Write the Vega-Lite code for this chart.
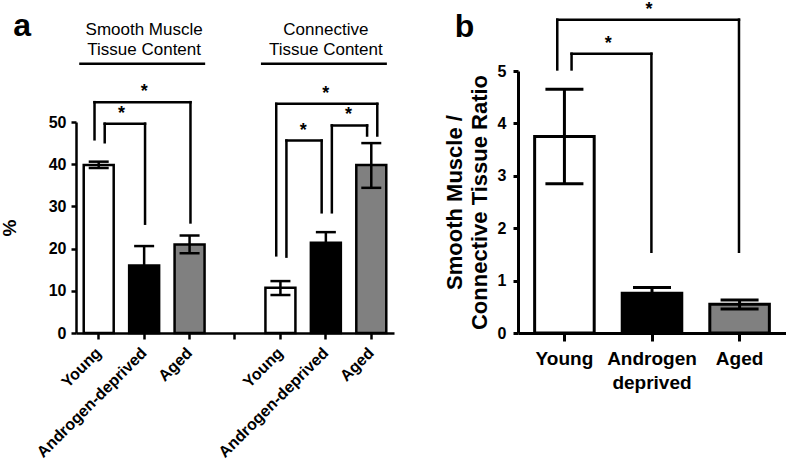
{
  "$schema": "https://vega.github.io/schema/vega-lite/v6.json",
  "padding": {"left": 0, "top": 0, "right": 0, "bottom": 0},
  "background": "white",
  "spacing": 49,
  "config": {
    "view": {"stroke": null},
    "font": "Liberation Sans",
    "axis": {"domainColor": "black", "tickColor": "black", "labelColor": "black", "titleColor": "black", "grid": false, "labelFontWeight": "bold", "titleFontWeight": "bold", "domainWidth": 2.5, "tickWidth": 2.5, "labelFont": "Liberation Sans", "titleFont": "Liberation Sans"},
    "text": {"font": "Liberation Sans", "color": "black"}
  },
  "resolve": {"scale": {"fill": "independent", "x": "independent", "y": "independent"}},
  "datasets": {
    "a_bars": [
      {"bar": "SM|Young", "tissue": "Smooth Muscle", "group": "Young", "mean": 39.8, "lo": 39.1, "hi": 40.6},
      {"bar": "SM|Androgen-deprived", "tissue": "Smooth Muscle", "group": "Androgen-deprived", "mean": 16.0, "lo": 11.4, "hi": 20.6},
      {"bar": "SM|Aged", "tissue": "Smooth Muscle", "group": "Aged", "mean": 21.0, "lo": 18.9, "hi": 23.1},
      {"bar": "CT|Young", "tissue": "Connective", "group": "Young", "mean": 10.7, "lo": 9.0, "hi": 12.3},
      {"bar": "CT|Androgen-deprived", "tissue": "Connective", "group": "Androgen-deprived", "mean": 21.4, "lo": 18.9, "hi": 23.9},
      {"bar": "CT|Aged", "tissue": "Connective", "group": "Aged", "mean": 39.8, "lo": 34.4, "hi": 45.0}
    ],
    "a_legs": [
      {"bar": "SM|Young", "side": "L", "bottom": 45.9, "top": 54.7},
      {"bar": "SM|Aged", "side": "C", "bottom": 26.2, "top": 54.7},
      {"bar": "SM|Young", "side": "R", "bottom": 45.2, "top": 49.6},
      {"bar": "SM|Androgen-deprived", "side": "C", "bottom": 25.9, "top": 49.6},
      {"bar": "CT|Young", "side": "L", "bottom": 18.4, "top": 54.3},
      {"bar": "CT|Aged", "side": "R", "bottom": 46.8, "top": 54.3},
      {"bar": "CT|Young", "side": "R", "bottom": 18.1, "top": 45.6},
      {"bar": "CT|Androgen-deprived", "side": "L", "bottom": 28.6, "top": 45.6},
      {"bar": "CT|Androgen-deprived", "side": "R", "bottom": 28.6, "top": 49.2},
      {"bar": "CT|Aged", "side": "L", "bottom": 46.8, "top": 49.2}
    ],
    "a_hlines": [
      {"from": "SM|Young", "to": "SM|Aged", "fromSide": "L", "toSide": "C", "y": 54.7},
      {"from": "SM|Young", "to": "SM|Androgen-deprived", "fromSide": "R", "toSide": "C", "y": 49.6},
      {"from": "CT|Young", "to": "CT|Aged", "fromSide": "L", "toSide": "R", "y": 54.3},
      {"from": "CT|Young", "to": "CT|Androgen-deprived", "fromSide": "R", "toSide": "L", "y": 45.6},
      {"from": "CT|Androgen-deprived", "to": "CT|Aged", "fromSide": "R", "toSide": "L", "y": 49.2}
    ],
    "a_stars": [
      {"at": "SM|Androgen-deprived", "mode": "center", "y": 54.7},
      {"at": "SM|Young", "mode": "between", "y": 49.6},
      {"at": "CT|Androgen-deprived", "mode": "center", "y": 54.3},
      {"at": "CT|Young", "mode": "between", "y": 45.6},
      {"at": "CT|Androgen-deprived", "mode": "between", "y": 49.2}
    ],
    "a_titles": [
      {"label": "Smooth Muscle\nTissue Content", "at": "SM|Androgen-deprived", "first": "SM|Young", "last": "SM|Aged", "y": 70.5, "line": 63.8},
      {"label": "Connective\nTissue Content", "at": "CT|Androgen-deprived", "first": "CT|Young", "last": "CT|Aged", "y": 70.5, "line": 63.8}
    ],
    "a_panel": [{"label": "a", "at": "SM|Young", "y": 70.3}],
    "b_bars": [
      {"bar": "Young", "mean": 3.75, "lo": 2.85, "hi": 4.65},
      {"bar": "Androgen deprived", "mean": 0.76, "lo": 0.66, "hi": 0.87},
      {"bar": "Aged", "mean": 0.55, "lo": 0.46, "hi": 0.63}
    ],
    "b_legs": [
      {"bar": "Young", "side": "L", "bottom": 5.03, "top": 5.98},
      {"bar": "Aged", "side": "C", "bottom": 1.55, "top": 5.98},
      {"bar": "Young", "side": "R", "bottom": 5.03, "top": 5.33},
      {"bar": "Androgen deprived", "side": "C", "bottom": 1.55, "top": 5.33}
    ],
    "b_hlines": [
      {"from": "Young", "to": "Aged", "fromSide": "L", "toSide": "C", "y": 5.98},
      {"from": "Young", "to": "Androgen deprived", "fromSide": "R", "toSide": "C", "y": 5.33}
    ],
    "b_stars": [
      {"at": "Androgen deprived", "mode": "center", "y": 5.98},
      {"at": "Young", "mode": "between", "y": 5.33}
    ],
    "b_panel": [{"label": "b", "at": "Young", "y": 5.64}]
  },
  "hconcat": [
    {
      "width": 318,
      "height": 262,
      "layer": [
        {
          "data": {"name": "a_bars"},
          "mark": {"type": "bar", "stroke": "black", "strokeWidth": 2.5},
          "encoding": {
            "x": {"field": "bar", "type": "nominal", "title": null,
              "scale": {"domain": ["SM|Young", "SM|Androgen-deprived", "SM|Aged", "gap", "CT|Young", "CT|Androgen-deprived", "CT|Aged"], "paddingInner": 0.34, "paddingOuter": 0.17},
              "axis": {"labelExpr": "split(datum.label, '|')[1] || ''", "labelAngle": -45, "labelAlign": "right", "labelBaseline": "middle", "labelFontSize": 16, "tickSize": 6, "labelPadding": 11}},
            "y": {"field": "mean", "type": "quantitative", "title": "%",
              "scale": {"domain": [0, 50], "range": [262, 51], "nice": false},
              "axis": {"values": [0, 10, 20, 30, 40, 50], "tickSize": 5, "labelPadding": 5, "labelFontSize": 16, "titleFontSize": 19, "titlePadding": 29}},
            "fill": {"field": "group", "type": "nominal", "legend": null,
              "scale": {"domain": ["Young", "Androgen-deprived", "Aged"], "range": ["#ffffff", "#000000", "#808080"]}}
          }
        },
        {
          "data": {"name": "a_bars"},
          "mark": {"type": "rule", "strokeWidth": 2.5, "color": "black"},
          "encoding": {
            "x": {"field": "bar", "type": "nominal"},
            "y": {"field": "lo", "type": "quantitative"},
            "y2": {"field": "hi"}
          }
        },
        {
          "data": {"name": "a_bars"},
          "mark": {"type": "tick", "orient": "horizontal", "size": 20, "thickness": 2.5, "color": "black", "opacity": 1},
          "encoding": {
            "x": {"field": "bar", "type": "nominal"},
            "y": {"field": "lo", "type": "quantitative"}
          }
        },
        {
          "data": {"name": "a_bars"},
          "mark": {"type": "tick", "orient": "horizontal", "size": 20, "thickness": 2.5, "color": "black", "opacity": 1},
          "encoding": {
            "x": {"field": "bar", "type": "nominal"},
            "y": {"field": "hi", "type": "quantitative"}
          }
        },
        {
          "data": {"name": "a_legs"},
          "transform": [{"filter": "datum.side === 'L'"}],
          "mark": {"type": "rule", "strokeWidth": 2.5, "color": "black", "strokeCap": "square"},
          "encoding": {
            "x": {"field": "bar", "type": "nominal", "bandPosition": 0.36},
            "y": {"field": "bottom", "type": "quantitative"},
            "y2": {"field": "top"}
          }
        },
        {
          "data": {"name": "a_legs"},
          "transform": [{"filter": "datum.side === 'C'"}],
          "mark": {"type": "rule", "strokeWidth": 2.5, "color": "black", "strokeCap": "square"},
          "encoding": {
            "x": {"field": "bar", "type": "nominal", "bandPosition": 0.53},
            "y": {"field": "bottom", "type": "quantitative"},
            "y2": {"field": "top"}
          }
        },
        {
          "data": {"name": "a_legs"},
          "transform": [{"filter": "datum.side === 'R'"}],
          "mark": {"type": "rule", "strokeWidth": 2.5, "color": "black", "strokeCap": "square"},
          "encoding": {
            "x": {"field": "bar", "type": "nominal", "bandPosition": 0.7},
            "y": {"field": "bottom", "type": "quantitative"},
            "y2": {"field": "top"}
          }
        },
        {
          "data": {"name": "a_hlines"},
          "transform": [{"filter": "datum.fromSide === 'L' && datum.toSide === 'C'"}],
          "mark": {"type": "rule", "strokeWidth": 2.5, "color": "black", "strokeCap": "square"},
          "encoding": {
            "x": {"field": "from", "type": "nominal", "bandPosition": 0.36},
            "x2": {"field": "to", "bandPosition": 0.53},
            "y": {"field": "y", "type": "quantitative"}
          }
        },
        {
          "data": {"name": "a_hlines"},
          "transform": [{"filter": "datum.fromSide === 'R' && datum.toSide === 'C'"}],
          "mark": {"type": "rule", "strokeWidth": 2.5, "color": "black", "strokeCap": "square"},
          "encoding": {
            "x": {"field": "from", "type": "nominal", "bandPosition": 0.7},
            "x2": {"field": "to", "bandPosition": 0.53},
            "y": {"field": "y", "type": "quantitative"}
          }
        },
        {
          "data": {"name": "a_hlines"},
          "transform": [{"filter": "datum.fromSide === 'L' && datum.toSide === 'R'"}],
          "mark": {"type": "rule", "strokeWidth": 2.5, "color": "black", "strokeCap": "square"},
          "encoding": {
            "x": {"field": "from", "type": "nominal", "bandPosition": 0.36},
            "x2": {"field": "to", "bandPosition": 0.7},
            "y": {"field": "y", "type": "quantitative"}
          }
        },
        {
          "data": {"name": "a_hlines"},
          "transform": [{"filter": "datum.fromSide === 'R' && datum.toSide === 'L'"}],
          "mark": {"type": "rule", "strokeWidth": 2.5, "color": "black", "strokeCap": "square"},
          "encoding": {
            "x": {"field": "from", "type": "nominal", "bandPosition": 0.7},
            "x2": {"field": "to", "bandPosition": 0.36},
            "y": {"field": "y", "type": "quantitative"}
          }
        },
        {
          "data": {"name": "a_stars"},
          "transform": [{"filter": "datum.mode === 'center'"}],
          "mark": {"type": "text", "text": "*", "fontSize": 18, "fontWeight": "bold", "baseline": "alphabetic", "dy": -5},
          "encoding": {
            "x": {"field": "at", "type": "nominal", "bandPosition": 0.5},
            "y": {"field": "y", "type": "quantitative"}
          }
        },
        {
          "data": {"name": "a_stars"},
          "transform": [{"filter": "datum.mode === 'between'"}],
          "mark": {"type": "text", "text": "*", "fontSize": 18, "fontWeight": "bold", "baseline": "alphabetic", "dy": -5},
          "encoding": {
            "x": {"field": "at", "type": "nominal", "bandPosition": 1.257},
            "y": {"field": "y", "type": "quantitative"}
          }
        },
        {
          "data": {"name": "a_titles"},
          "mark": {"type": "text", "fontSize": 17, "lineBreak": "\n", "lineHeight": 20, "baseline": "alphabetic", "align": "center"},
          "encoding": {
            "x": {"field": "at", "type": "nominal"},
            "y": {"field": "y", "type": "quantitative"},
            "text": {"field": "label"}
          }
        },
        {
          "data": {"name": "a_titles"},
          "mark": {"type": "rule", "strokeWidth": 2.5, "color": "black"},
          "encoding": {
            "x": {"field": "first", "type": "nominal", "bandPosition": -0.15},
            "x2": {"field": "last", "bandPosition": 1.02},
            "y": {"field": "line", "type": "quantitative"}
          }
        },
        {
          "data": {"name": "a_panel"},
          "mark": {"type": "text", "fontSize": 32, "fontWeight": "bold", "baseline": "alphabetic", "align": "left"},
          "encoding": {
            "x": {"field": "at", "type": "nominal", "bandPosition": -2.35},
            "y": {"field": "y", "type": "quantitative"},
            "text": {"field": "label"}
          }
        }
      ]
    },
    {
      "width": 268,
      "height": 262,
      "layer": [
        {
          "data": {"name": "b_bars"},
          "mark": {"type": "bar", "stroke": "black", "strokeWidth": 3},
          "encoding": {
            "x": {"field": "bar", "type": "nominal", "title": null,
              "scale": {"domain": ["Young", "Androgen deprived", "Aged"], "paddingInner": 0.32, "paddingOuter": 0.19},
              "axis": {"labelExpr": "split(datum.label, ' ')", "labelAngle": 0, "labelFontSize": 19, "labelLineHeight": 24, "labelBaseline": "top", "tickSize": 8, "tickWidth": 3, "domainWidth": 3, "labelPadding": 8}},
            "y": {"field": "mean", "type": "quantitative", "title": ["Smooth Muscle /", "Connective Tissue Ratio"],
              "scale": {"domain": [0, 5], "nice": false},
              "axis": {"values": [0, 1, 2, 3, 4, 5], "tickSize": 5, "tickWidth": 3, "domainWidth": 3, "labelPadding": 7, "labelFontSize": 16, "titleFontSize": 22, "titleLineHeight": 25, "titlePadding": 6}},
            "fill": {"field": "bar", "type": "nominal", "legend": null,
              "scale": {"domain": ["Young", "Androgen deprived", "Aged"], "range": ["#ffffff", "#000000", "#808080"]}}
          }
        },
        {
          "data": {"name": "b_bars"},
          "mark": {"type": "rule", "strokeWidth": 3, "color": "black"},
          "encoding": {
            "x": {"field": "bar", "type": "nominal"},
            "y": {"field": "lo", "type": "quantitative"},
            "y2": {"field": "hi"}
          }
        },
        {
          "data": {"name": "b_bars"},
          "mark": {"type": "tick", "orient": "horizontal", "size": 38, "thickness": 3, "color": "black", "opacity": 1},
          "encoding": {
            "x": {"field": "bar", "type": "nominal"},
            "y": {"field": "lo", "type": "quantitative"}
          }
        },
        {
          "data": {"name": "b_bars"},
          "mark": {"type": "tick", "orient": "horizontal", "size": 38, "thickness": 3, "color": "black", "opacity": 1},
          "encoding": {
            "x": {"field": "bar", "type": "nominal"},
            "y": {"field": "hi", "type": "quantitative"}
          }
        },
        {
          "data": {"name": "b_legs"},
          "transform": [{"filter": "datum.side === 'L'"}],
          "mark": {"type": "rule", "strokeWidth": 2.5, "color": "black", "strokeCap": "square"},
          "encoding": {
            "x": {"field": "bar", "type": "nominal", "bandPosition": 0.38},
            "y": {"field": "bottom", "type": "quantitative"},
            "y2": {"field": "top"}
          }
        },
        {
          "data": {"name": "b_legs"},
          "transform": [{"filter": "datum.side === 'R'"}],
          "mark": {"type": "rule", "strokeWidth": 2.5, "color": "black", "strokeCap": "square"},
          "encoding": {
            "x": {"field": "bar", "type": "nominal", "bandPosition": 0.62},
            "y": {"field": "bottom", "type": "quantitative"},
            "y2": {"field": "top"}
          }
        },
        {
          "data": {"name": "b_legs"},
          "transform": [{"filter": "datum.side === 'C'"}],
          "mark": {"type": "rule", "strokeWidth": 2.5, "color": "black", "strokeCap": "square"},
          "encoding": {
            "x": {"field": "bar", "type": "nominal", "bandPosition": 0.49},
            "y": {"field": "bottom", "type": "quantitative"},
            "y2": {"field": "top"}
          }
        },
        {
          "data": {"name": "b_hlines"},
          "transform": [{"filter": "datum.fromSide === 'L'"}],
          "mark": {"type": "rule", "strokeWidth": 2.5, "color": "black", "strokeCap": "square"},
          "encoding": {
            "x": {"field": "from", "type": "nominal", "bandPosition": 0.38},
            "x2": {"field": "to", "bandPosition": 0.49},
            "y": {"field": "y", "type": "quantitative"}
          }
        },
        {
          "data": {"name": "b_hlines"},
          "transform": [{"filter": "datum.fromSide === 'R'"}],
          "mark": {"type": "rule", "strokeWidth": 2.5, "color": "black", "strokeCap": "square"},
          "encoding": {
            "x": {"field": "from", "type": "nominal", "bandPosition": 0.62},
            "x2": {"field": "to", "bandPosition": 0.49},
            "y": {"field": "y", "type": "quantitative"}
          }
        },
        {
          "data": {"name": "b_stars"},
          "transform": [{"filter": "datum.mode === 'center'"}],
          "mark": {"type": "text", "text": "*", "fontSize": 18, "fontWeight": "bold", "baseline": "alphabetic", "dy": -5},
          "encoding": {
            "x": {"field": "at", "type": "nominal", "bandPosition": 0.45},
            "y": {"field": "y", "type": "quantitative"}
          }
        },
        {
          "data": {"name": "b_stars"},
          "transform": [{"filter": "datum.mode === 'between'"}],
          "mark": {"type": "text", "text": "*", "fontSize": 18, "fontWeight": "bold", "baseline": "alphabetic", "dy": -5},
          "encoding": {
            "x": {"field": "at", "type": "nominal", "bandPosition": 1.235},
            "y": {"field": "y", "type": "quantitative"}
          }
        },
        {
          "data": {"name": "b_panel"},
          "mark": {"type": "text", "fontSize": 32, "fontWeight": "bold", "baseline": "alphabetic", "align": "left"},
          "encoding": {
            "x": {"field": "at", "type": "nominal", "bandPosition": -1.34},
            "y": {"field": "y", "type": "quantitative"},
            "text": {"field": "label"}
          }
        }
      ]
    }
  ]
}
